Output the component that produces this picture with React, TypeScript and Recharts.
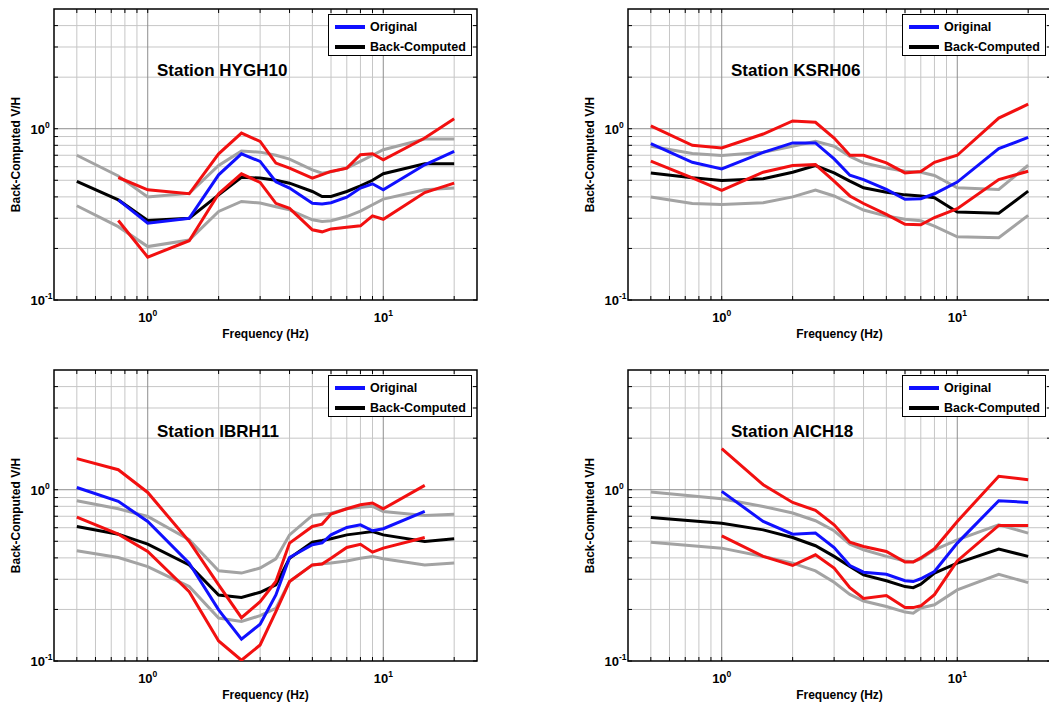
import React from "react";
import { CartesianGrid, Line, LineChart, ReferenceArea, XAxis, YAxis } from "recharts";

const FONT = '"Liberation Sans", Arial, Helvetica, sans-serif';
const PLOT_W = 423;
const PLOT_H = 291;

// grid values (Hz / V/H), minor and major lines
const minorX = [0.5, 0.6, 0.7, 0.8, 0.9, 2, 3, 4, 5, 6, 7, 8, 9, 20];
const majorX = [1, 10];
const minorY = [0.2, 0.3, 0.4, 0.5, 0.6, 0.7, 0.8, 0.9, 2, 3, 4];
const majorY = [1];
const xTicks = [0.5, 0.6, 0.7, 0.8, 0.9, 1, 2, 3, 4, 5, 6, 7, 8, 9, 10, 20];
const yTicks = [0.1, 0.2, 0.3, 0.4, 0.5, 0.6, 0.7, 0.8, 0.9, 1, 2, 3, 4];

const legendItems = [
  { label: "Original", color: "#1010ff" },
  { label: "Back-Computed", color: "#000000" },
];

// Station HYGH10
const hyghFreq = [0.5, 0.75, 1, 1.5, 2, 2.5, 3, 3.5, 4, 5, 5.5, 6, 7, 8, 9, 10, 15, 20];
const hyghGrayHi = [0.7, 0.53, 0.4, 0.42, 0.61, 0.74, 0.73, 0.7, 0.665, 0.575, 0.55, 0.56, 0.59, 0.645, 0.7, 0.754, 0.87, 0.87];
const hyghGrayLo = [0.355, 0.268, 0.205, 0.224, 0.329, 0.376, 0.368, 0.35, 0.336, 0.294, 0.287, 0.29, 0.307, 0.33, 0.36, 0.388, 0.44, 0.45];
const hyghBack = [0.492, 0.384, 0.291, 0.3, 0.411, 0.521, 0.515, 0.5, 0.481, 0.43, 0.402, 0.402, 0.43, 0.464, 0.5, 0.546, 0.624, 0.624];
const hyghOrig = [null, 0.384, 0.281, 0.3, 0.538, 0.714, 0.644, 0.49, 0.45, 0.367, 0.364, 0.37, 0.398, 0.45, 0.477, 0.44, 0.616, 0.737];
const hyghRedHi = [null, 0.519, 0.44, 0.417, 0.714, 0.943, 0.843, 0.63, 0.589, 0.515, 0.54, 0.563, 0.589, 0.705, 0.714, 0.659, 0.882, 1.144];
const hyghRedLo = [null, 0.291, 0.178, 0.222, 0.417, 0.545, 0.486, 0.367, 0.343, 0.257, 0.25, 0.26, 0.266, 0.271, 0.31, 0.296, 0.424, 0.481];

// Station KSRH06
const ksrhFreq = [0.5, 0.75, 1, 1.5, 2, 2.5, 3, 3.5, 4, 5, 6, 7, 8, 10, 15, 20];
const ksrhGrayHi = [0.79, 0.716, 0.697, 0.728, 0.79, 0.844, 0.79, 0.69, 0.632, 0.59, 0.565, 0.557, 0.533, 0.452, 0.442, 0.612];
const ksrhGrayLo = [0.399, 0.366, 0.361, 0.37, 0.4, 0.438, 0.405, 0.366, 0.335, 0.309, 0.296, 0.29, 0.27, 0.234, 0.231, 0.312];
const ksrhBack = [0.552, 0.517, 0.499, 0.51, 0.557, 0.609, 0.552, 0.494, 0.452, 0.426, 0.411, 0.405, 0.395, 0.326, 0.321, 0.432];
const ksrhOrig = [0.818, 0.637, 0.583, 0.728, 0.826, 0.826, 0.667, 0.535, 0.505, 0.442, 0.387, 0.39, 0.417, 0.488, 0.765, 0.89];
const ksrhRedHi = [1.04, 0.8, 0.772, 0.931, 1.11, 1.09, 0.882, 0.7, 0.7, 0.632, 0.552, 0.562, 0.637, 0.7, 1.153, 1.39];
const ksrhRedLo = [0.646, 0.517, 0.436, 0.557, 0.609, 0.617, 0.494, 0.405, 0.366, 0.316, 0.277, 0.275, 0.303, 0.341, 0.505, 0.565];

// Station IBRH11
const ibrhFreq = [0.5, 0.75, 1, 1.5, 2, 2.5, 3, 3.5, 4, 5, 5.5, 6, 7, 8, 9, 10, 15, 20];
const ibrhGrayHi = [0.862, 0.774, 0.698, 0.51, 0.336, 0.326, 0.349, 0.395, 0.545, 0.708, 0.72, 0.73, 0.774, 0.79, 0.8, 0.747, 0.708, 0.72];
const ibrhGrayLo = [0.44, 0.402, 0.356, 0.272, 0.178, 0.17, 0.184, 0.203, 0.291, 0.364, 0.37, 0.373, 0.384, 0.398, 0.408, 0.395, 0.364, 0.373];
const ibrhBack = [0.61, 0.55, 0.481, 0.364, 0.243, 0.235, 0.252, 0.278, 0.398, 0.494, 0.505, 0.517, 0.545, 0.558, 0.57, 0.545, 0.499, 0.517];
const ibrhOrig = [1.03, 0.855, 0.653, 0.373, 0.199, 0.134, 0.164, 0.243, 0.402, 0.477, 0.49, 0.545, 0.602, 0.624, 0.576, 0.592, 0.747, null];
const ibrhRedHi = [1.518, 1.309, 0.964, 0.499, 0.278, 0.179, 0.222, 0.291, 0.488, 0.61, 0.63, 0.721, 0.774, 0.817, 0.836, 0.774, 1.06, null];
const ibrhRedLo = [0.692, 0.55, 0.436, 0.254, 0.131, 0.101, 0.124, 0.194, 0.291, 0.364, 0.368, 0.398, 0.46, 0.48, 0.432, 0.456, 0.526, null];

// Station AICH18
const aichFreq = [0.5, 1, 1.5, 2, 2.5, 3, 3.5, 4, 5, 6, 6.5, 7, 8, 10, 15, 20];
const aichGrayHi = [0.969, 0.885, 0.799, 0.731, 0.659, 0.576, 0.481, 0.446, 0.408, 0.384, 0.38, 0.395, 0.446, 0.51, 0.624, 0.558];
const aichGrayLo = [0.494, 0.456, 0.408, 0.373, 0.336, 0.288, 0.245, 0.224, 0.208, 0.193, 0.19, 0.204, 0.213, 0.26, 0.321, 0.287];
const aichBack = [0.689, 0.638, 0.583, 0.526, 0.471, 0.408, 0.356, 0.318, 0.294, 0.272, 0.268, 0.281, 0.326, 0.373, 0.45, 0.408];
const aichOrig = [null, 0.978, 0.653, 0.55, 0.558, 0.46, 0.361, 0.33, 0.321, 0.294, 0.291, 0.302, 0.333, 0.488, 0.862, 0.843];
const aichRedHi = [null, 1.738, 1.07, 0.843, 0.757, 0.624, 0.494, 0.466, 0.436, 0.378, 0.378, 0.4, 0.452, 0.653, 1.197, 1.144];
const aichRedLo = [null, 0.538, 0.408, 0.361, 0.417, 0.349, 0.268, 0.232, 0.241, 0.205, 0.205, 0.21, 0.244, 0.384, 0.619, 0.619];

const isDecade = (v: number) => Math.abs(Math.log10(v) - Math.round(Math.log10(v))) < 1e-6;

// x tick: inward tick marks on bottom and top edges, label only on decades
const XTick = (props: any) => {
  const { x, y, payload } = props;
  const exp = Math.round(Math.log10(payload.value));
  return (
    <g>
      <line x1={x} x2={x} y1={y} y2={y - 4} stroke="#000" strokeWidth={1} />
      <line x1={x} x2={x} y1={y - PLOT_H} y2={y - PLOT_H + 4} stroke="#000" strokeWidth={1} />
      {isDecade(payload.value) && (
        <text x={x} y={y + 22} textAnchor="middle" fontFamily={FONT} fontWeight="bold" fontSize={13} fill="#000">
          10
          <tspan dy={-6} fontSize={8.5}>
            {exp}
          </tspan>
        </text>
      )}
    </g>
  );
};

const YTick = (props: any) => {
  const { x, y, payload } = props;
  const exp = Math.round(Math.log10(payload.value));
  const axisX = x + 9;
  return (
    <g fontFamily={FONT} fontWeight="bold" fill="#000">
      <line x1={axisX} x2={axisX + 4} y1={y} y2={y} stroke="#000" strokeWidth={1} />
      <line x1={axisX + PLOT_W - 4} x2={axisX + PLOT_W} y1={y} y2={y} stroke="#000" strokeWidth={1} />
      {isDecade(payload.value) && (
        <>
          <text x={x} y={y + 5} textAnchor="end" fontSize={13}>
            10
          </text>
          <text x={x} y={y - 1} textAnchor="start" fontSize={8.5}>
            {exp}
          </text>
        </>
      )}
    </g>
  );
};

type PanelProps = {
  left: number;
  top: number;
  title: string;
  freq: number[];
  grayHi: (number | null)[];
  grayLo: (number | null)[];
  back: (number | null)[];
  orig: (number | null)[];
  redHi: (number | null)[];
  redLo: (number | null)[];
};

function Panel({ left, top, title, freq, grayHi, grayLo, back, orig, redHi, redLo }: PanelProps) {
  const rows = freq.map((f, i) => ({
    f,
    grayHi: grayHi[i],
    grayLo: grayLo[i],
    back: back[i],
    orig: orig[i],
    redHi: redHi[i],
    redLo: redLo[i],
  }));
  const lineProps = { type: "linear" as const, strokeWidth: 3, dot: false, isAnimationActive: false };

  return (
    <div style={{ position: "absolute", left, top, width: 500, height: 350 }}>
      <LineChart width={500} height={350} data={rows} margin={{ top: 9, right: 23, bottom: 0, left: 0 }}>
        <CartesianGrid stroke="#c6c6c6" horizontalValues={minorY} verticalValues={minorX} />
        <CartesianGrid stroke="#8e8e8e" horizontalValues={majorY} verticalValues={majorX} />
        <XAxis
          dataKey="f"
          type="number"
          scale="log"
          domain={[0.4, 25]}
          allowDataOverflow
          ticks={xTicks}
          tick={<XTick />}
          tickSize={0}
          tickMargin={0}
          axisLine={false}
          interval={0}
          height={50}
          label={{
            value: "Frequency (Hz)",
            position: "insideBottom",
            offset: 12,
            style: { fontFamily: FONT, fontWeight: "bold", fontSize: 12, fill: "#000" },
          }}
        />
        <YAxis
          type="number"
          scale="log"
          domain={[0.1, 5]}
          allowDataOverflow
          ticks={yTicks}
          tick={<YTick />}
          tickSize={0}
          tickMargin={9}
          axisLine={false}
          interval={0}
          width={54}
          label={{
            value: "Back-Computed V/H",
            angle: -90,
            position: "insideLeft",
            offset: 16,
            style: { fontFamily: FONT, fontWeight: "bold", fontSize: 12, fill: "#000", textAnchor: "middle" },
          }}
        />
        <ReferenceArea x1={0.4} x2={25} y1={0.1} y2={5} fill="none" fillOpacity={0} stroke="#000" strokeWidth={1.5} />
        <Line dataKey="grayHi" stroke="#a3a3a3" {...lineProps} />
        <Line dataKey="grayLo" stroke="#a3a3a3" {...lineProps} />
        <Line dataKey="back" stroke="#000000" {...lineProps} />
        <Line dataKey="orig" stroke="#1010ff" {...lineProps} />
        <Line dataKey="redHi" stroke="#f21010" {...lineProps} />
        <Line dataKey="redLo" stroke="#f21010" {...lineProps} />
      </LineChart>
      <div
        style={{
          position: "absolute",
          left: 157,
          top: 61,
          fontFamily: FONT,
          fontWeight: "bold",
          fontSize: 17,
          lineHeight: "20px",
          whiteSpace: "nowrap",
        }}
      >
        {title}
      </div>
      <div
        style={{
          position: "absolute",
          left: 328,
          top: 14,
          width: 144,
          height: 42,
          boxSizing: "border-box",
          border: "1.5px solid #000",
          background: "#fff",
          fontFamily: FONT,
          fontWeight: "bold",
          fontSize: 12.5,
        }}
      >
        {legendItems.map((item, i) => (
          <div key={item.label} style={{ position: "absolute", left: 0, top: 3 + i * 20, height: 18, width: "100%" }}>
            <div style={{ position: "absolute", left: 6, top: 7, width: 30, height: 3.5, background: item.color }} />
            <div style={{ position: "absolute", left: 41, top: 0, lineHeight: "18px", whiteSpace: "nowrap" }}>{item.label}</div>
          </div>
        ))}
      </div>
    </div>
  );
}

export default function App() {
  return (
    <div style={{ position: "fixed", left: 0, top: 0, width: 1049, height: 707, overflow: "hidden", background: "#fff" }}>
      <Panel left={0} top={0} title="Station HYGH10" freq={hyghFreq} grayHi={hyghGrayHi} grayLo={hyghGrayLo} back={hyghBack} orig={hyghOrig} redHi={hyghRedHi} redLo={hyghRedLo} />
      <Panel left={574} top={0} title="Station KSRH06" freq={ksrhFreq} grayHi={ksrhGrayHi} grayLo={ksrhGrayLo} back={ksrhBack} orig={ksrhOrig} redHi={ksrhRedHi} redLo={ksrhRedLo} />
      <Panel left={0} top={361} title="Station IBRH11" freq={ibrhFreq} grayHi={ibrhGrayHi} grayLo={ibrhGrayLo} back={ibrhBack} orig={ibrhOrig} redHi={ibrhRedHi} redLo={ibrhRedLo} />
      <Panel left={574} top={361} title="Station AICH18" freq={aichFreq} grayHi={aichGrayHi} grayLo={aichGrayLo} back={aichBack} orig={aichOrig} redHi={aichRedHi} redLo={aichRedLo} />
    </div>
  );
}
